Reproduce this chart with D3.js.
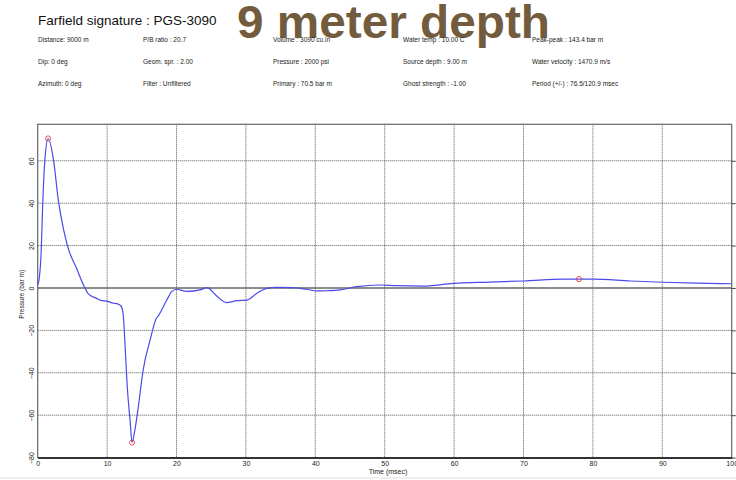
<!DOCTYPE html>
<html lang="en">
<head>
<meta charset="UTF-8">
<title>Farfield signature : PGS-3090</title>
<script src="https://d3js.org/d3.v7.min.js"></script>
<style>
    body { margin: 0; background: #fff; }
    svg { font-family: "Liberation Sans", Arial, sans-serif; }
    .grid line { stroke: #555; stroke-width: 1; stroke-dasharray: 1 1; }
    .tick text { font-size: 7px; fill: #222; }
</style>
</head>
<body>
<div id="chart"></div>
<script>
    const width = 736;
    const height = 480;

    // signature: time (msec) and pressure (bar m)
    const times = [0, 0.2, 0.5, 0.7, 1.05, 1.5, 2.25, 3.0, 3.7, 4.4, 5.6, 6.6, 7.3, 8.5, 9.0, 10.2, 10.9, 11.4, 12.0, 12.3, 12.6, 12.9, 13.3, 13.6, 14.0, 14.5, 15.2, 16.2, 17.1, 17.4, 18.6, 19.3, 20.0, 21.5, 23.4, 24.4, 25.8, 27.2, 28.7, 30.1, 31.6, 33.0, 34.4, 36.8, 38.7, 40.2, 41.6, 43.6, 46.0, 49.3, 51.7, 55.6, 59.9, 65.0, 70.0, 75.8, 78.0, 80.1, 85.4, 90.1, 95.0, 100];
    const pressure = [1.5, 4, 17, 37.5, 61, 70.5, 61, 40.7, 28, 18.7, 9.3, 1.4, -2.8, -4.9, -5.7, -6.4, -7.2, -7.4, -8.5, -12, -27.6, -46.5, -62, -72.9, -67, -56, -38.6, -24.5, -14.3, -13, -5.7, -1.7, -0.6, -1.6, -0.9, 0.15, -3.8, -6.9, -6.0, -5.7, -2.5, -0.15, 0.3, 0.15, -0.6, -1.4, -1.3, -0.9, 0.6, 1.4, 1.1, 0.9, 2.2, 2.8, 3.3, 4.2, 4.2, 4.2, 3.3, 2.7, 2.3, 2.0];

    // marked extremes (peak, trough, bubble peak)
    const markerTimes = [1.5, 13.6, 78.0];
    const markerValues = [70.5, -72.9, 4.2];

    const xTicks = [0, 10, 20, 30, 40, 50, 60, 70, 80, 90, 100];
    const yTicks = [-80, -60, -40, -20, 0, 20, 40, 60];

    const infoRows = [
        ["Distance: 9000 m", "P/B ratio : 20.7", "Volume : 3090 cu.in", "Water temp : 10.00 C", "Peak-peak : 143.4 bar m"],
        ["Dip: 0 deg", "Geom. spr. : 2.00", "Pressure : 2000 psi", "Source depth : 9.00 m", "Water velocity : 1470.9 m/s"],
        ["Azimuth: 0 deg", "Filter : Unfiltered", "Primary : 70.5 bar m", "Ghost strength : -1.00", "Period (+/-) : 76.5/120.9 msec"]
    ];
    const infoCols = [38, 143, 273, 403, 532];

    const svg = d3.select("#chart").append("svg")
        .attr("width", width)
        .attr("height", height);

    // big overlay caption sits under the header text
    svg.append("text")
        .attr("x", 237)
        .attr("y", 38)
        .attr("font-size", 46)
        .attr("font-weight", "bold")
        .attr("fill", "#735c3e")
        .attr("textLength", 313)
        .attr("lengthAdjust", "spacingAndGlyphs")
        .text("9 meter depth");

    svg.append("text")
        .attr("x", 38)
        .attr("y", 25)
        .attr("font-size", 13.5)
        .attr("fill", "#111")
        .text("Farfield signature : PGS-3090");

    infoRows.forEach((row, i) => {
        row.forEach((txt, j) => {
            svg.append("text")
                .attr("x", infoCols[j])
                .attr("y", 42 + i * 22)
                .attr("font-size", 6.5)
                .attr("fill", "#222")
                .text(txt);
        });
    });

    const x = d3.scaleLinear().domain([0, 100]).range([37.7, 731.7]);
    const y = d3.scaleLinear().domain([-80, 77.2]).range([457.6, 124.3]);

    // dotted grid
    const grid = svg.append("g").attr("class", "grid");
    grid.selectAll(".gx").data(xTicks.slice(1, -1)).enter()
        .append("line")
        .attr("x1", d => x(d)).attr("x2", d => x(d))
        .attr("y1", y.range()[1]).attr("y2", y.range()[0]);
    grid.selectAll(".gy").data(yTicks.filter(d => d !== 0 && d !== -80)).enter()
        .append("line")
        .attr("x1", x.range()[0]).attr("x2", x.range()[1])
        .attr("y1", d => y(d)).attr("y2", d => y(d));

    // zero line
    svg.append("line")
        .attr("x1", x.range()[0]).attr("x2", x.range()[1])
        .attr("y1", y(0)).attr("y2", y(0))
        .attr("stroke", "#666").attr("stroke-width", 1.3);

    // frame
    svg.append("rect")
        .attr("x", x.range()[0]).attr("y", y.range()[1])
        .attr("width", x.range()[1] - x.range()[0])
        .attr("height", y.range()[0] - y.range()[1])
        .attr("fill", "none").attr("stroke", "#666").attr("stroke-width", 1.2);

    // bottom axis
    const xAxis = svg.append("g")
        .attr("transform", `translate(0,${y(-80)})`)
        .call(d3.axisBottom(x).tickValues(xTicks).tickSize(0).tickPadding(3));
    xAxis.select(".domain").attr("stroke", "#333").attr("stroke-width", 2);

    // left axis, labels turned
    const yAxis = svg.append("g")
        .attr("transform", `translate(${x(0)},0)`)
        .call(d3.axisLeft(y).tickValues(yTicks).tickSize(0).tickPadding(0));
    yAxis.select(".domain").remove();
    yAxis.selectAll(".tick text")
        .attr("text-anchor", "middle")
        .attr("transform", "translate(-6,0) rotate(-90)")
        .attr("x", 0).attr("dy", "0.32em");

    // right axis, cut off by the page edge
    const yAxisR = svg.append("g")
        .attr("transform", `translate(${x(100)},0)`)
        .call(d3.axisRight(y).tickValues(yTicks).tickSize(4).tickPadding(0));
    yAxisR.select(".domain").remove();
    yAxisR.selectAll(".tick line").attr("stroke", "#444");
    yAxisR.selectAll(".tick text")
        .attr("text-anchor", "middle")
        .attr("transform", "translate(9,0) rotate(-90)")
        .attr("x", 0).attr("dy", "0.32em");

    svg.append("text")
        .attr("transform", `translate(24,${y(-3)}) rotate(-90)`)
        .attr("text-anchor", "middle")
        .attr("font-size", 6.5)
        .attr("fill", "#222")
        .text("Pressure (bar m)");

    svg.append("text")
        .attr("x", 388)
        .attr("y", 474)
        .attr("text-anchor", "middle")
        .attr("font-size", 7)
        .attr("fill", "#222")
        .text("Time (msec)");

    const data = times.map((t, i) => ({ t: t, v: pressure[i] }));
    const line = d3.line()
        .x(d => x(d.t))
        .y(d => y(d.v))
        .curve(d3.curveMonotoneX);

    svg.append("path")
        .datum(data)
        .attr("d", line)
        .attr("fill", "none")
        .attr("stroke", "#4b4bea")
        .attr("stroke-width", 1.2);

    svg.selectAll(".marker")
        .data(markerTimes.map((t, i) => ({ t: t, v: markerValues[i] })))
        .enter()
        .append("circle")
        .attr("cx", d => x(d.t))
        .attr("cy", d => y(d.v))
        .attr("r", 2.6)
        .attr("fill", "none")
        .attr("stroke", "#e04040")
        .attr("stroke-width", 0.9);

    // faint strip at the page bottom
    svg.append("line")
        .attr("x1", 0).attr("x2", width)
        .attr("y1", 478).attr("y2", 478)
        .attr("stroke", "#eee").attr("stroke-width", 2);
</script>
</body>
</html>
